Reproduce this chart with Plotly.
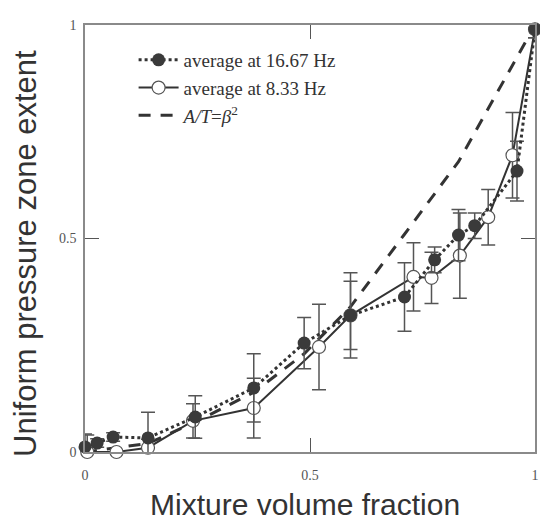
import plotly.graph_objects as go

# 16.67 Hz average (filled circles)
x_hi = [0.0, 0.027, 0.0625, 0.14, 0.245, 0.375, 0.487, 0.59, 0.71, 0.777, 0.83, 0.866, 0.96, 1.0]
y_hi = [0.012, 0.021, 0.035, 0.033, 0.082, 0.15, 0.255, 0.32, 0.363, 0.45, 0.508, 0.53, 0.658, 0.99]
e_hi = [0.03, 0.01, 0.01, 0.06, 0.05, 0.08, 0.06, 0.10, 0.08, 0.03, 0.06, 0.03, 0.07, 0.02]

# 8.33 Hz average (open circles)
x_lo = [0.005, 0.07, 0.14, 0.24, 0.375, 0.52, 0.59, 0.73, 0.77, 0.833, 0.896, 0.95, 1.0]
y_lo = [0.0, 0.0, 0.01, 0.073, 0.103, 0.246, 0.32, 0.41, 0.408, 0.46, 0.55, 0.695, 0.99]
e_lo = [0.04, 0.0, 0.02, 0.04, 0.07, 0.10, 0.08, 0.08, 0.06, 0.10, 0.065, 0.10, 0.02]

# A/T = beta^2 reference curve
x_at = [0.0, 0.14, 0.245, 0.375, 0.487, 0.59, 0.71, 0.83, 1.0]
y_at = [0.0, 0.02, 0.07, 0.14, 0.23, 0.34, 0.51, 0.68, 1.0]

x_ticks = [0, 0.5, 1]
x_ticklabels = ["0", "0.5", "1"]
y_ticks = [0, 0.5, 1]
y_ticklabels = ["0", "0.5", "1"]

x_title = "Mixture volume fraction"
y_title = "Uniform pressure zone extent"

dark = "#333333"
fig = go.Figure()

fig.add_trace(go.Scatter(
    x=x_at, y=y_at, mode="lines",
    line=dict(color=dark, width=3, dash="12px,10px"),
    name="<i>A/T</i>=<i>β</i><sup>2</sup>", cliponaxis=False))

fig.add_trace(go.Scatter(
    x=x_lo, y=y_lo, mode="lines+markers",
    line=dict(color=dark, width=2),
    marker=dict(symbol="circle", size=13, color="white", line=dict(color="#555555", width=1.2)),
    error_y=dict(type="data", array=e_lo, visible=True, color="#555555", thickness=1.5, width=7),
    name="average at 8.33 Hz", cliponaxis=False))

fig.add_trace(go.Scatter(
    x=x_hi, y=y_hi, mode="lines+markers",
    line=dict(color=dark, width=3, dash="dot"),
    marker=dict(symbol="circle", size=13, color="#3a3a3a"),
    error_y=dict(type="data", array=e_hi, visible=True, color="#555555", thickness=1.5, width=7),
    name="average at 16.67 Hz", cliponaxis=False))

axis_common = dict(
    showgrid=False, zeroline=False, showline=True, linecolor="#8a8a8a", linewidth=1.5,
    mirror="ticks", ticks="inside", ticklen=14, tickcolor="#555555", tickwidth=1,
    tickfont=dict(family="Liberation Serif", size=14, color="#555555"),
    automargin=False,
)

fig.update_layout(
    width=540, height=520,
    margin=dict(l=85, r=5, t=25, b=68),
    paper_bgcolor="white", plot_bgcolor="white",
    xaxis=dict(range=[0, 1], tickvals=x_ticks, ticktext=x_ticklabels,
               ticklabelstandoff=9, **axis_common),
    yaxis=dict(range=[0, 1], tickvals=y_ticks, ticktext=y_ticklabels,
               ticklabelstandoff=4, **axis_common),
    legend=dict(x=0.108, y=0.9625, xanchor="left", yanchor="top",
                bgcolor="rgba(0,0,0,0)", traceorder="reversed",
                font=dict(family="Liberation Serif", size=19, color="#333333"),
                tracegroupgap=0, itemwidth=40),
    showlegend=True,
    annotations=[
        dict(text=x_title, xref="paper", yref="paper", x=0.489, y=-0.124,
             xanchor="center", yanchor="middle", showarrow=False,
             font=dict(family="Liberation Sans", size=30, color="#333333")),
        dict(text=y_title, xref="paper", yref="paper", x=-0.131, y=0.464,
             xanchor="center", yanchor="middle", showarrow=False, textangle=-90,
             font=dict(family="Liberation Sans", size=31, color="#333333")),
    ],
)

fig.write_html("out.html", config={"displayModeBar": False},
               post_script="document.body.style.margin='0';document.body.style.overflow='hidden';")
